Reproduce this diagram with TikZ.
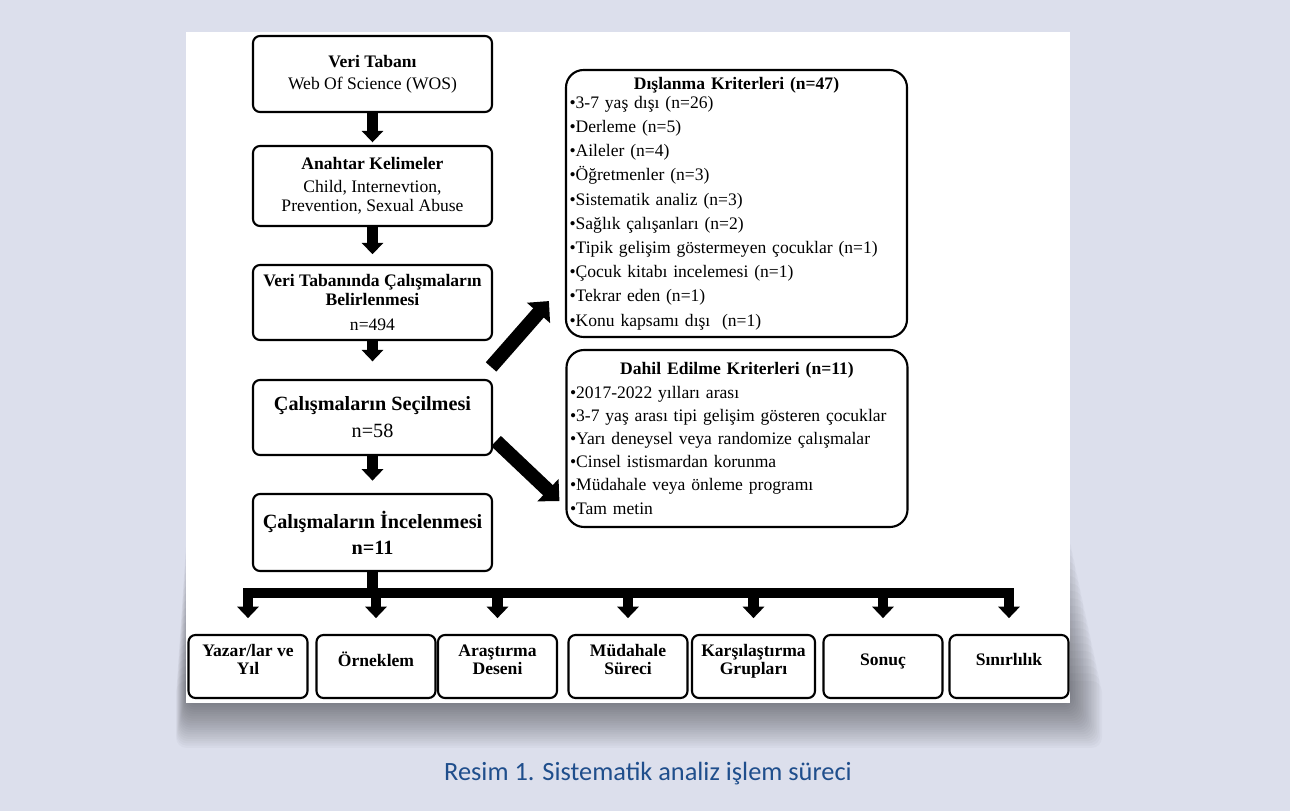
\documentclass[tikz,border=0pt]{standalone}
\usepackage{fontspec}
\setmainfont{Liberation Serif}
\newfontfamily\capfont{Carlito}
\usepackage{tikz}
\usetikzlibrary{shapes, arrows.meta, positioning}
\definecolor{bgcol}{RGB}{220,223,236}
\definecolor{capblue}{RGB}{31,78,140}
\tikzstyle{fbox} = [rectangle, draw, line width=1.2pt, rounded corners=4pt, fill=white, align=center, inner sep=2pt, minimum width=4.78cm]
\tikzstyle{lbox} = [rectangle, draw, line width=1.2pt, rounded corners=10pt, fill=white, inner xsep=2pt, inner ysep=2pt, text width=6.68cm, align=left]
\tikzstyle{sbox} = [rectangle, draw, line width=1.2pt, rounded corners=4pt, fill=white, align=center, inner sep=1pt, text depth=8pt, minimum width=2.38cm, minimum height=1.26cm, font=\fontsize{10}{10.5}\selectfont\bfseries]
\tikzstyle{varrow} = [draw, line width=6pt, -{Triangle[width=12pt, length=6.5pt]}]
\tikzstyle{darrow} = [draw, line width=8pt, -{Triangle[width=17pt, length=9pt]}]
\tikzstyle{line} = [draw, line width=6pt]

\begin{document}
\begin{tikzpicture}
	\fill [bgcol] (0,0) rectangle (25.8,16.22);
	\foreach \k in {1,...,20}
		\fill [black, opacity=0.025, rounded corners=6pt] ({3.72-0.01*\k},{5.6-0.15*\k}) rectangle ({21.40+0.032*\k},{2.16-0.045*\k});
	\fill [white] (3.72,2.16) rectangle (21.40,15.58);

	\node [fbox, minimum height=1.52cm, font=\fontsize{10}{12.5}\selectfont] (veri) at (7.45,14.74) {\textbf{Veri Tabanı}\\Web Of Science (WOS)};
	\node [fbox, minimum height=1.6cm, font=\fontsize{10}{11}\selectfont] (anahtar) at (7.45,12.50) {\textbf{Anahtar Kelimeler}\\[2pt]Child, Internevtion,\\Prevention, Sexual Abuse};
	\node [fbox, minimum height=1.5cm, font=\fontsize{10}{10.5}\selectfont] (belir) at (7.45,10.17) {\textbf{Veri Tabanında Çalışmaların}\\\textbf{Belirlenmesi}\\[3.5pt]n=494};
	\node [fbox, minimum height=1.5cm, font=\fontsize{11.5}{15.4}\selectfont] (secil) at (7.45,7.87) {\textbf{Çalışmaların Seçilmesi}\\n=58};
	\node [fbox, minimum height=1.54cm, font=\fontsize{11.5}{14.8}\selectfont\bfseries] (incele) at (7.45,5.57) {Çalışmaların İncelenmesi\\n=11};

	\node [lbox, minimum height=5.34cm, font=\fontsize{10}{13.77}\selectfont] (excl) at (14.73,12.15) {\makebox[\hsize]{\bfseries Dışlanma Kriterleri (n=47)}\\[-3pt]
		•3-7 yaş dışı (n=26)\\•Derleme (n=5)\\•Aileler (n=4)\\•Öğretmenler (n=3)\\•Sistematik analiz (n=3)\\•Sağlık çalışanları (n=2)\\•Tipik gelişim göstermeyen çocuklar (n=1)\\•Çocuk kitabı incelemesi (n=1)\\•Tekrar eden (n=1)\\•Konu kapsamı dışı~ (n=1)};
	\node [lbox, minimum height=3.54cm, font=\fontsize{10}{13.2}\selectfont] (incl) at (14.74,7.45) {\makebox[\hsize]{\bfseries Dahil Edilme Kriterleri (n=11)}\\
		•2017-2022 yılları arası\\•3-7 yaş arası tipi gelişim gösteren çocuklar\\•Yarı deneysel veya randomize çalışmalar\\•Cinsel istismardan korunma\\•Müdahale veya önleme programı\\•Tam metin};

	\node [sbox] (yazar) at (4.96,2.89) {Yazar/lar ve\\Yıl};
	\node [sbox] (orneklem) at (7.52,2.89) {Örneklem};
	\node [sbox] (desen) at (9.95,2.89) {Araştırma\\Deseni};
	\node [sbox] (mudahale) at (12.56,2.89) {Müdahale\\Süreci};
	\node [sbox, minimum width=2.46cm] (karsi) at (15.07,2.89) {Karşılaştırma\\Grupları};
	\node [sbox] (sonuc) at (17.66,2.89) {Sonuç};
	\node [sbox] (sinir) at (20.18,2.89) {Sınırlılık};

	\node [font=\capfont\fontsize{15}{18}\selectfont, text=capblue] (caption) at (12.96,0.74) {Resim 1. Sistematik analiz işlem süreci};

	\coordinate (bar) at (7.45,4.36);

	\path [varrow, shorten >=1.5pt] (veri.south) -- (anahtar.north);
	\path [varrow, shorten >=5.5pt] (anahtar.south) -- (belir.north);
	\path [varrow, shorten >=10pt] (belir.south) -- (secil.north);
	\path [varrow, shorten >=7pt] (secil.south) -- (incele.north);
	\path [darrow] ([xshift=-0.04cm, yshift=0.24cm]secil.north east) -- ([xshift=-0.32cm, yshift=0.74cm]excl.south west);
	\path [darrow] ([xshift=0.06cm, yshift=0.3cm]secil.south east) -- ([xshift=-0.12cm, yshift=0.54cm]incl.south west);
	\path [line] (incele.south) -- (incele.south |- bar);
	\path [line, line cap=rect] (yazar.north |- bar) -- (sinir.north |- bar);
	\foreach \n in {yazar, orneklem, desen, mudahale, karsi, sonuc, sinir}
		\path [varrow, shorten >=9pt] (\n.north |- bar) -- (\n.north);
\end{tikzpicture}
\end{document}
